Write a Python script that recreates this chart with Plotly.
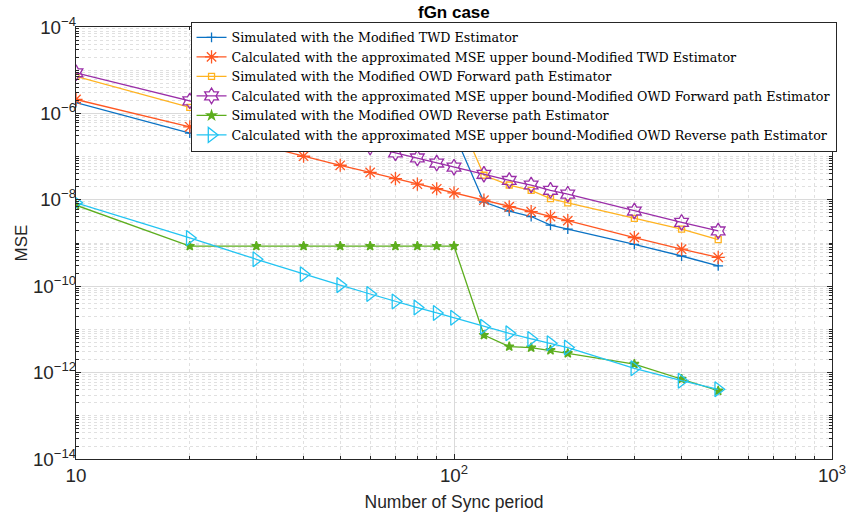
import plotly.graph_objects as go

x_sync = [10, 20, 30, 40, 50, 60, 70, 80, 90, 100, 120, 140, 160, 180, 200, 300, 400, 500]

twd_sim = [1.78e-6, 3.5e-7, 3.5e-7, 3.5e-7, 3.5e-7, 3.5e-7, 3.5e-7, 3.5e-7, 3.5e-7, 3.5e-7,
           8.9e-9, 5.5e-9, 4.1e-9, 2.6e-9, 2.1e-9, 9.3e-10, 5.0e-10, 2.95e-10]
twd_calc = [2.1e-6, 4.9e-7, 1.95e-7, 1.02e-7, 6.3e-8, 4.3e-8, 3.1e-8, 2.3e-8, 1.8e-8, 1.45e-8,
            9.8e-9, 6.9e-9, 5.3e-9, 4.1e-9, 3.3e-9, 1.34e-9, 7.2e-10, 4.65e-10]
owd_fwd_sim = [7.2e-6, 1.38e-6, 1.4e-6, 1.4e-6, 1.4e-6, 1.4e-6, 1.4e-6, 1.4e-6, 1.4e-6, 1.4e-6,
               3.7e-8, 2.2e-8, 1.66e-8, 1.07e-8, 8.5e-9, 3.7e-9, 2.1e-9, 1.2e-9]
owd_fwd_calc = [8.7e-6, 1.95e-6, 8.1e-7, 4.0e-7, 2.5e-7, 1.66e-7, 1.22e-7, 9.3e-8, 7.1e-8, 5.7e-8,
                3.9e-8, 2.8e-8, 2.2e-8, 1.66e-8, 1.35e-8, 5.5e-9, 3.0e-9, 1.9e-9]
owd_rev_sim = [7.5e-9, 8.5e-10, 8.5e-10, 8.5e-10, 8.5e-10, 8.5e-10, 8.5e-10, 8.5e-10, 8.5e-10, 8.5e-10,
               7.4e-12, 4.0e-12, 3.8e-12, 3.3e-12, 2.8e-12, 1.58e-12, 7.1e-13, 3.8e-13]
owd_rev_calc = [8.5e-9, 1.31e-9, 4.2e-10, 1.9e-10, 1.06e-10, 6.6e-11, 4.4e-11, 3.2e-11, 2.4e-11, 1.86e-11,
                1.15e-11, 8.1e-12, 6.0e-12, 4.8e-12, 3.8e-12, 1.26e-12, 6.5e-13, 4.1e-13]

names = [
    "Simulated with the Modified TWD Estimator",
    "Calculated with the approximated MSE upper bound-Modified TWD Estimator",
    "Simulated with the Modified OWD Forward path Estimator",
    "Calculated with the approximated MSE upper bound-Modified OWD Forward path Estimator",
    "Simulated with the Modified OWD Reverse path Estimator",
    "Calculated with the approximated MSE upper bound-Modified OWD Reverse path Estimator",
]

series = [twd_sim, twd_calc, owd_fwd_sim, owd_fwd_calc, owd_rev_sim, owd_rev_calc]
colors = ["#0A72C4", "#FF5722", "#FFB320", "#9A2EA8", "#5DAE1E", "#22C4F2"]
symbols = ["cross-thin", "asterisk", "square-open", "hexagram-open", "star", "triangle-right-open"]
sizes = [7, 11, 6, 12, 7, 13]

fig = go.Figure()
for ys, nm, c, sym, sz in zip(series, names, colors, symbols, sizes):
    fig.add_trace(go.Scatter(
        x=x_sync, y=ys, name=nm, mode="lines+markers",
        line=dict(color=c, width=1.3),
        marker=dict(symbol=sym, size=sz, color=c, line=dict(color=c, width=1.3)),
    ))

grid_major = "#DADADA"
grid_minor = "#E0E0E0"
axis_common = dict(
    type="log", showline=True, linecolor="#262626", linewidth=1, mirror="allticks",
    ticks="inside", ticklen=5, tickcolor="#262626", showgrid=True, gridcolor=grid_major,
    gridwidth=1, exponentformat="power", zeroline=False, automargin=False,
    ticklabeloverflow="allow",
    tickfont=dict(family="Liberation Sans", size=15, color="#262626"),
    minor=dict(dtick="D1", showgrid=True, gridcolor=grid_minor, griddash="dot",
               ticks="inside", ticklen=3, tickcolor="#262626"),
)

fig.update_xaxes(range=[1, 3], dtick=1, **axis_common,
                 title=dict(text="Number of Sync period", standoff=10,
                            font=dict(family="Liberation Sans", size=17.5, color="#262626")))
fig.update_yaxes(range=[-14, -4], dtick=2, ticklabelstandoff=-4, **axis_common,
                 title=dict(text="MSE", standoff=0,
                            font=dict(family="Liberation Sans", size=17, color="#262626")))

fig.update_layout(
    width=846, height=516,
    margin=dict(l=76, r=14, t=27, b=57, autoexpand=False),
    paper_bgcolor="white", plot_bgcolor="white",
    title=dict(text="<b>fGn case</b>", x=0.5365, xanchor="center", y=0.976, yanchor="middle",
               yref="container", font=dict(family="Liberation Sans", size=17, color="#000000")),
    legend=dict(x=0.1515, y=1.0125, xanchor="left", yanchor="top",
                bgcolor="white", bordercolor="#262626", borderwidth=1,
                font=dict(family="DejaVu Serif", size=12.7, color="#000000"),
                itemwidth=30, tracegroupgap=0),
    showlegend=True,
)

fig.write_html("out.html")
